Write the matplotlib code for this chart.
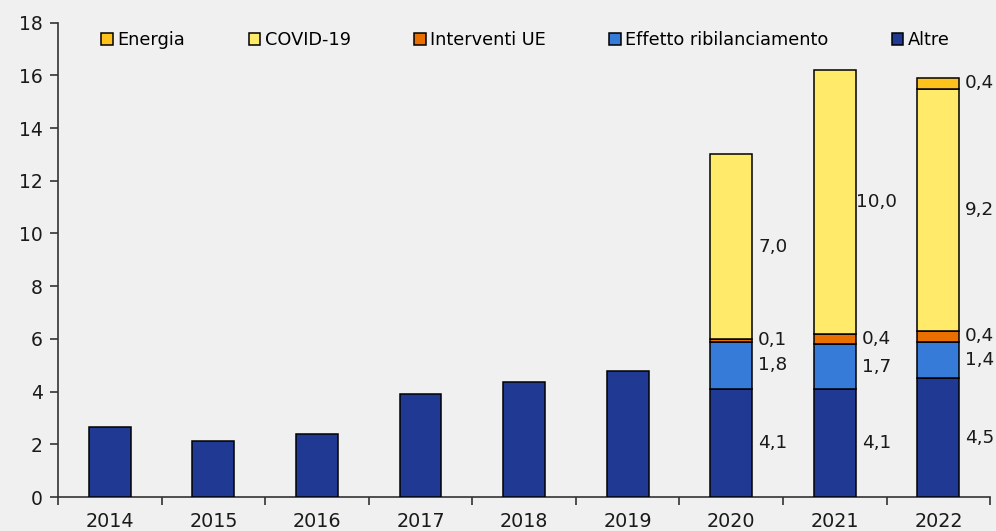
import matplotlib
matplotlib.use('Agg')
import matplotlib.pyplot as plt
import numpy as np

years = ['2014', '2015', '2016', '2017', '2018', '2019', '2020', '2021', '2022']
altre = [2.65, 2.11, 2.40, 3.92, 4.35, 4.80, 4.1, 4.1, 4.5]
ribilanciamento = [0, 0, 0, 0, 0, 0, 1.8, 1.7, 1.4]
interventi_ue = [0, 0, 0, 0, 0, 0, 0.1, 0.4, 0.4]
covid = [0, 0, 0, 0, 0, 0, 7.0, 10.0, 9.2]
energia = [0, 0, 0, 0, 0, 0, 0, 0, 0.4]

series_names = ['Altre', 'Effetto ribilanciamento', 'Interventi UE', 'COVID-19', 'Energia']
series_vals = [altre, ribilanciamento, interventi_ue, covid, energia]
series_cols = ['#203a93', '#377bd9', '#e96f00', '#ffea6a', '#ffc11c']

bg = '#f0f0f0'
plt.rcParams['font.family'] = ['DejaVu Sans']

fig = plt.figure(figsize=(9.96, 5.31), dpi=100, facecolor=bg)
ax = fig.add_axes([0.0582, 0.064, 0.936, 0.8934], facecolor=bg)

x = np.arange(len(years))
width = 0.405
bottom = np.zeros(len(years))
handles = {}
for name, vals, col in zip(series_names, series_vals, series_cols):
    vals = np.array(vals, dtype=float)
    mask = vals > 0
    b = ax.bar(x[mask], vals[mask], width, bottom=bottom[mask], color=col,
               edgecolor='black', linewidth=1.1, label=name, zorder=3)
    handles[name] = b
    # labels for the stacked years only
    for i in np.where(mask)[0]:
        if i >= 6:
            txt = ('%.1f' % vals[i]).replace('.', ',')
            ax.text(x[i] + 0.40, bottom[i] + vals[i] / 2, txt, ha='center',
                    va='center', fontsize=13.3, color='#1a1a1a', zorder=4)
    bottom = bottom + vals

ax.set_xlim(-0.5, 8.5)
ax.set_ylim(0, 18)
ax.set_yticks(np.arange(0, 19, 2))
ax.set_xticks(x)
ax.set_xticklabels(years)
ax.set_xticks(np.arange(-0.5, 9, 1), minor=True)
ax.tick_params(axis='x', which='major', length=0, labelsize=13.8, pad=11, colors='#1a1a1a')
ax.tick_params(axis='x', which='minor', length=6, width=1.2, color='#333333')
ax.tick_params(axis='y', length=6, width=1.2, labelsize=13.5, pad=5, color='#333333', labelcolor='#1a1a1a')
for s in ['top', 'right']:
    ax.spines[s].set_visible(False)
for s in ['left', 'bottom']:
    ax.spines[s].set_color('#333333')
    ax.spines[s].set_linewidth(1.2)

order = ['Energia', 'COVID-19', 'Interventi UE', 'Effetto ribilanciamento', 'Altre']
leg = ax.legend([handles[n] for n in order], order, ncol=5, frameon=False,
                loc='center left', bbox_to_anchor=(0.0465, 0.963),
                handlelength=0.65, handleheight=0.65, handletextpad=0.25,
                columnspacing=3.57, borderpad=0, borderaxespad=0,
                prop={'size': 12.8})

fig.savefig('out.png', dpi=100, facecolor=bg)
